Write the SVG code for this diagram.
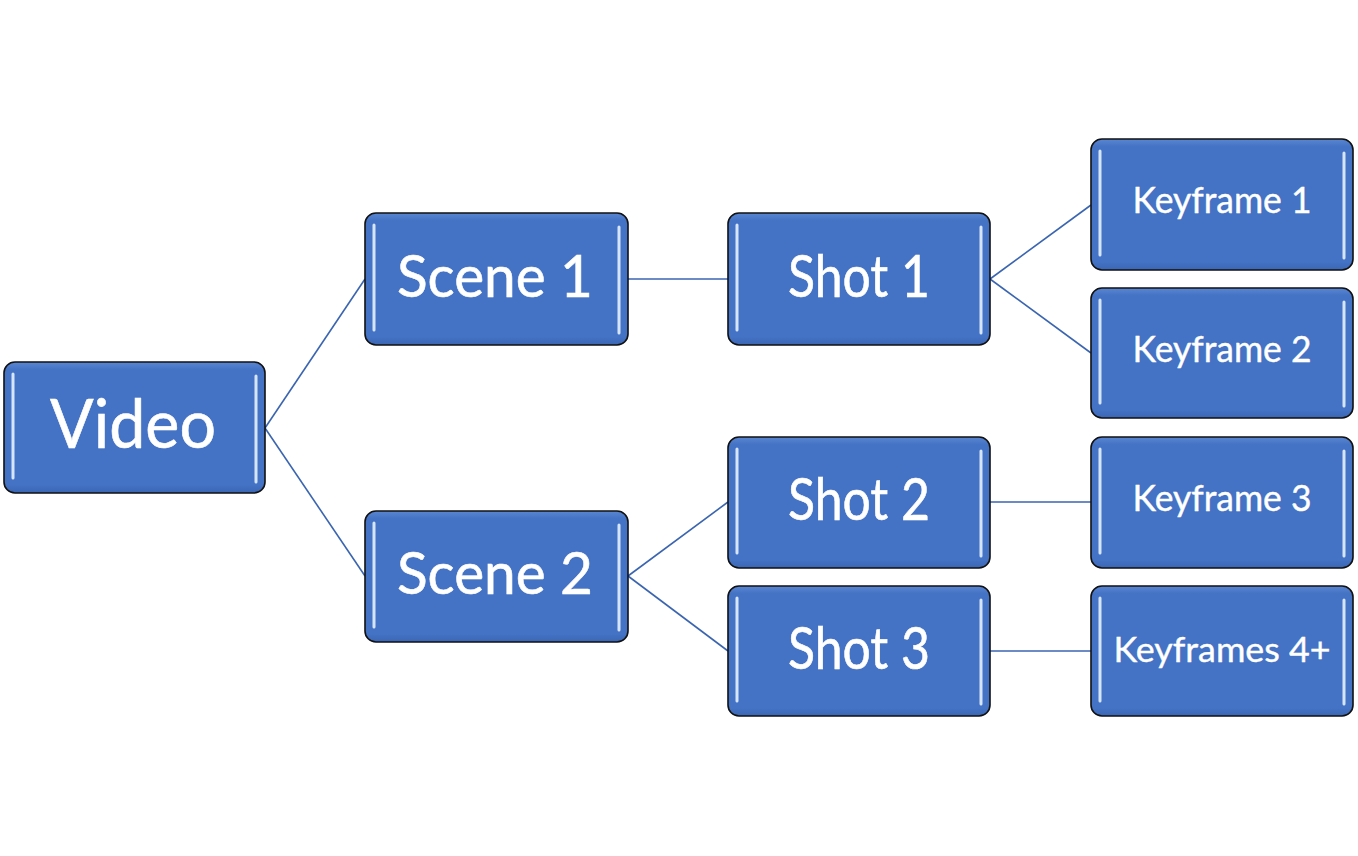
<svg xmlns="http://www.w3.org/2000/svg" width="1358" height="856" viewBox="0 0 1358 856">
<defs>
<linearGradient id="bev" x1="0" y1="0" x2="0" y2="1">
<stop offset="0" stop-color="#5a86d2"/>
<stop offset="0.06" stop-color="#4472C4"/>
<stop offset="0.94" stop-color="#4472C4"/>
<stop offset="1" stop-color="#3a66b4"/>
</linearGradient>
</defs>
<style>
.box{fill:url(#bev);stroke:#111;stroke-width:1.6}
.hl{stroke:#d6e5fc;stroke-width:3;stroke-linecap:round}
.t{fill:#fff;stroke:#fff;stroke-width:0.6;font-family:Lato,"Open Sans","Liberation Sans",sans-serif;text-anchor:middle}
.big{font-size:67px}
.mid{font-size:59px}
.sm{font-size:36px;stroke-width:0.4}
.con{stroke:#3b65b0;stroke-width:1.6;fill:none}
</style>
<g id="connectors">
<line class="con" x1="265" y1="428" x2="365" y2="279"/>
<line class="con" x1="265" y1="428" x2="365" y2="576"/>
<line class="con" x1="628" y1="279" x2="728" y2="279"/>
<line class="con" x1="990" y1="279" x2="1091" y2="205"/>
<line class="con" x1="990" y1="279" x2="1091" y2="353"/>
<line class="con" x1="628" y1="576" x2="728" y2="502"/>
<line class="con" x1="628" y1="576" x2="728" y2="651"/>
<line class="con" x1="990" y1="502" x2="1091" y2="502"/>
<line class="con" x1="990" y1="651" x2="1091" y2="651"/>
</g>
<g id="video">
<rect class="box" x="4" y="362" width="261" height="131" rx="11"/>
<line class="hl" x1="13" y1="374" x2="13" y2="478"/>
<line class="hl" x1="256" y1="376" x2="256" y2="482"/>
<text class="t big" x="133" y="448" textLength="166" lengthAdjust="spacingAndGlyphs">Video</text>
</g>
<g id="scene1">
<rect class="box" x="365" y="213" width="263" height="132" rx="11"/>
<line class="hl" x1="374" y1="225" x2="374" y2="330"/>
<line class="hl" x1="619" y1="227" x2="619" y2="333"/>
<text class="t mid" x="495" y="297" textLength="196" lengthAdjust="spacingAndGlyphs">Scene 1</text>
</g>
<g id="scene2">
<rect class="box" x="365" y="511" width="263" height="131" rx="11"/>
<line class="hl" x1="374" y1="523" x2="374" y2="627"/>
<line class="hl" x1="619" y1="525" x2="619" y2="630"/>
<text class="t mid" x="495" y="594" textLength="196" lengthAdjust="spacingAndGlyphs">Scene 2</text>
</g>
<g id="shot1">
<rect class="box" x="728" y="213" width="262" height="132" rx="11"/>
<line class="hl" x1="737" y1="225" x2="737" y2="330"/>
<line class="hl" x1="981" y1="227" x2="981" y2="333"/>
<text class="t mid" x="859" y="297" textLength="142" lengthAdjust="spacingAndGlyphs">Shot 1</text>
</g>
<g id="shot2">
<rect class="box" x="728" y="437" width="262" height="131" rx="11"/>
<line class="hl" x1="737" y1="449" x2="737" y2="553"/>
<line class="hl" x1="981" y1="451" x2="981" y2="556"/>
<text class="t mid" x="859" y="520" textLength="142" lengthAdjust="spacingAndGlyphs">Shot 2</text>
</g>
<g id="shot3">
<rect class="box" x="728" y="586" width="262" height="130" rx="11"/>
<line class="hl" x1="737" y1="598" x2="737" y2="701"/>
<line class="hl" x1="981" y1="600" x2="981" y2="704"/>
<text class="t mid" x="859" y="669" textLength="142" lengthAdjust="spacingAndGlyphs">Shot 3</text>
</g>
<g id="keyframe1">
<rect class="box" x="1091" y="139" width="262" height="131" rx="11"/>
<line class="hl" x1="1100" y1="151" x2="1100" y2="255"/>
<line class="hl" x1="1344" y1="153" x2="1344" y2="258"/>
<text class="t sm" x="1222" y="213" textLength="179" lengthAdjust="spacingAndGlyphs">Keyframe 1</text>
</g>
<g id="keyframe2">
<rect class="box" x="1091" y="288" width="262" height="130" rx="11"/>
<line class="hl" x1="1100" y1="300" x2="1100" y2="403"/>
<line class="hl" x1="1344" y1="302" x2="1344" y2="406"/>
<text class="t sm" x="1222" y="362" textLength="179" lengthAdjust="spacingAndGlyphs">Keyframe 2</text>
</g>
<g id="keyframe3">
<rect class="box" x="1091" y="437" width="262" height="131" rx="11"/>
<line class="hl" x1="1100" y1="449" x2="1100" y2="553"/>
<line class="hl" x1="1344" y1="451" x2="1344" y2="556"/>
<text class="t sm" x="1222" y="511" textLength="179" lengthAdjust="spacingAndGlyphs">Keyframe 3</text>
</g>
<g id="keyframe4">
<rect class="box" x="1091" y="586" width="262" height="130" rx="11"/>
<line class="hl" x1="1100" y1="598" x2="1100" y2="701"/>
<line class="hl" x1="1344" y1="600" x2="1344" y2="704"/>
<text class="t sm" x="1222" y="662" textLength="217" lengthAdjust="spacingAndGlyphs" style="font-size:35px">Keyframes 4+</text>
</g>
</svg>
